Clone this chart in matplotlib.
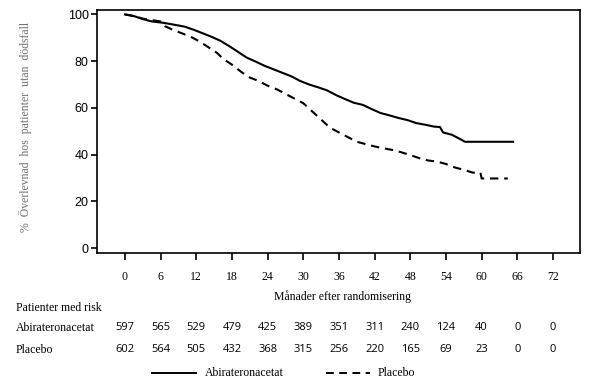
import matplotlib
matplotlib.use("Agg")
import matplotlib.pyplot as plt
from matplotlib.lines import Line2D
from matplotlib.transforms import blended_transform_factory

# ---- data ----
abi_months = [0, 1.5, 3, 4.5, 6.5, 8.5, 10, 11.5, 13, 14.5, 16, 17.5, 19, 20.5, 22, 23.5,
              25, 26.5, 28, 29.5, 31, 32.5, 34, 35.5, 37, 38.5, 40, 41.5, 43, 44.5, 46,
              47.5, 49, 50.5, 52, 53, 53.5, 55, 56.5, 57.2, 65.3]
abi_surv = [100, 99.3, 98, 97, 96.4, 95.5, 94.8, 93.5, 92, 90.5, 88.8, 86.5, 84, 81.5, 79.8,
            78, 76.5, 75, 73.5, 71.5, 70, 68.8, 67.5, 65.5, 63.8, 62.2, 61.3, 59.5, 57.8,
            56.8, 55.7, 54.8, 53.5, 52.8, 52, 51.8, 49.5, 48.5, 46.5, 45.5, 45.5]

pla_months = [0, 1.5, 3, 4.5, 6, 6.7, 8, 9.5, 11, 12.5, 14, 15.5, 16.5, 18, 19.5, 21, 22.5,
              24, 25.5, 27, 28.5, 30, 31.5, 33, 34.5, 36, 37.5, 39, 40.5, 42, 43.5, 45,
              46.5, 48, 49.5, 51, 52.5, 54, 55.5, 57, 58.5, 59.8, 60, 64.4]
pla_surv = [100, 99.3, 98.2, 97.6, 97, 95, 93.5, 92, 90.5, 88.5, 86, 83.5, 81, 78.5, 75.5,
            73, 71.5, 69.5, 68, 66, 64, 62, 58.5, 55, 51.5, 49.5, 47.5, 45.5, 44.5, 43.5,
            42.7, 42, 41, 39.8, 38.5, 37.5, 37, 36, 34.5, 33.5, 32.3, 32.3, 29.8, 29.8]

x_ticks = [0, 6, 12, 18, 24, 30, 36, 42, 48, 54, 60, 66, 72]
y_ticks = [0, 20, 40, 60, 80, 100]
risk_abi = [597, 565, 529, 479, 425, 389, 351, 311, 240, 124, 40, 0, 0]
risk_pla = [602, 564, 505, 432, 368, 315, 256, 220, 165, 69, 23, 0, 0]
label_abi = "Abirateronacetat"
label_pla = "Placebo"

SERIF = "Liberation Serif"
SANS = "Liberation Sans"
NUMF = "Open Sans"

W, H = 591, 385
fig = plt.figure(figsize=(W / 100, H / 100), dpi=100)
ax = fig.add_axes([97 / W, 1 - 253 / H, 483 / W, 243 / H])

ax.plot(abi_months, abi_surv, color="black", lw=1.5)
ax.plot(pla_months, pla_surv, color="black", lw=1.5, linestyle=(0, (4, 2.8)))

ax.set_xlim(-4.71, 76.55)
ax.set_ylim(-2.1, 101.9)
ax.set_xticks(x_ticks)
ax.set_yticks(y_ticks)
for s in ax.spines.values():
    s.set_linewidth(1.2)
ax.tick_params(axis="y", direction="out", length=4, width=1.2, pad=2, labelsize=9)
ax.tick_params(axis="x", direction="out", length=5, width=1.2, pad=8, labelsize=8.5)
for lab in ax.get_yticklabels():
    lab.set_fontfamily(SANS)
for lab in ax.get_xticklabels():
    lab.set_fontfamily(SERIF)

fig.text(25 / W, 1 - 127 / H, "%  Överlevnad  hos  patienter  utan  dödsfall",
         rotation=90, ha="center", va="center", family=SERIF, fontsize=8.5,
         color="#707070")

fig.text(342 / W, 1 - 297 / H, "Månader efter randomisering", ha="center", va="center",
         family=SERIF, fontsize=8.5)

fig.text(16 / W, 1 - 308 / H, "Patienter med risk", ha="left", va="center",
         family=SERIF, fontsize=8.5)
fig.text(16 / W, 1 - 328 / H, label_abi, ha="left", va="center", family=SERIF, fontsize=8.5)
fig.text(16 / W, 1 - 350 / H, label_pla, ha="left", va="center", family=SERIF, fontsize=8.5)

tr = blended_transform_factory(ax.transData, fig.transFigure)
for m, a, p in zip(x_ticks, risk_abi, risk_pla):
    ax.text(m, 1 - 328 / H, str(a), transform=tr, ha="center", va="center",
            family=NUMF, fontsize=8)
    ax.text(m, 1 - 350 / H, str(p), transform=tr, ha="center", va="center",
            family=NUMF, fontsize=8)

ly = 1 - 373 / H
fig.add_artist(Line2D([152 / W, 196 / W], [ly, ly], color="black", lw=1.4))
fig.add_artist(Line2D([326 / W, 370 / W], [ly, ly], color="black", lw=1.4,
                      linestyle=(0, (4, 2.8))))
fig.text(205 / W, ly, label_abi, ha="left", va="center", family=SERIF, fontsize=8.5)
fig.text(378 / W, ly, label_pla, ha="left", va="center", family=SERIF, fontsize=8.5)

fig.savefig("out.png", dpi=100)
